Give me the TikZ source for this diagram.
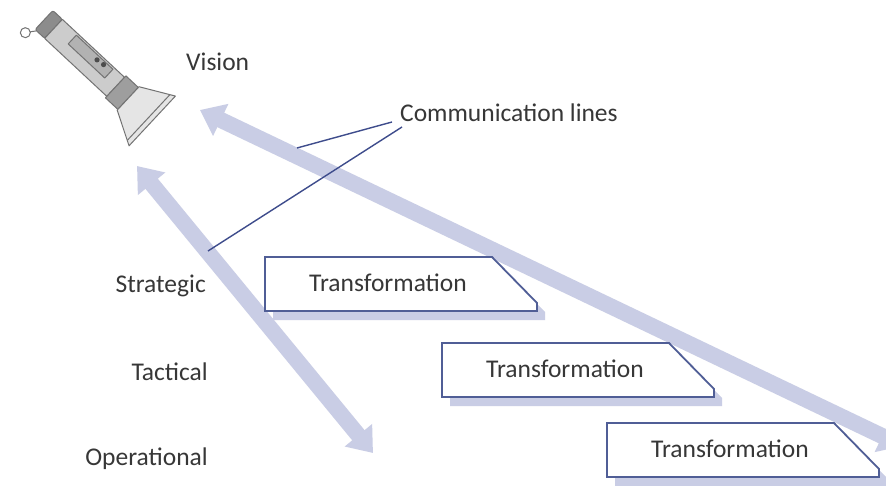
\documentclass[tikz,border=0pt]{standalone}
\usepackage{fontspec}
\setmainfont{Carlito}
\usetikzlibrary{arrows.meta}

\definecolor{flow}{RGB}{201,205,229}
\definecolor{frameblue}{RGB}{80,94,150}
\definecolor{commblue}{RGB}{62,76,140}
\definecolor{ink}{RGB}{55,55,55}
\definecolor{lampline}{RGB}{115,115,115}

\tikzset{
  plaintext/.style={text=ink, font=\fontsize{25.5}{30}\selectfont, inner sep=0pt},
  flowarrow/.style={draw=flow, line width=16pt,
    {Triangle[width=34pt,length=23pt]}-{Triangle[width=34pt,length=23pt]}},
  commline/.style={draw=commblue, line width=1.4pt},
  tframe/.style={draw=frameblue, line width=1.8pt, fill=white, line join=miter},
  tshadow/.style={fill=flow},
  lamp/.style={draw=lampline, line width=1pt, line join=round},
}

% one "Transformation" stage: #1 node name, (#2,#3) top-left corner
\newcommand\transbox[3]{%
  \begin{scope}[shift={(#2,#3)}]
    \fill[tshadow, shift={(8,9)}] (0,0) -- (227,0) -- (272,46) -- (272,54) -- (0,54) -- cycle;
    \draw[tframe] (0,0) -- (227,0) -- (272,46) -- (272,54) -- (0,54) -- cycle;
    \node[plaintext, anchor=base] (#1) at (123,34) {Transformation};
  \end{scope}}

\begin{document}
\begin{tikzpicture}[x=1pt, y=-1pt]
  \useasboundingbox (0,0) rectangle (886,486);
  \clip (0,0) rectangle (886,486);
  \fill[white] (0,0) rectangle (886,486);

  % flashlight
  \begin{scope}[shift={(44,20)}, rotate=-43]
    \draw[lamp] (2,13) -- (-2,18);
    \draw[lamp] (-5,22) circle (5);
    \draw[lamp, fill=black!45, rounded corners=2pt] (0,-13) rectangle (13,13);
    \draw[lamp, fill=black!20] (13,-13) rectangle (98,13);
    \draw[lamp, fill=black!30] (34,-11) rectangle (84,1);
    \fill[black!70] (66,-7) circle (2.6);
    \fill[black!70] (74,-8) circle (2.6);
    \draw[lamp, fill=black!38] (98,-15) rectangle (115,15);
    \draw[lamp, fill=black!10] (115,-16) -- (148,-34) -- (148,34) -- (115,16) -- cycle;
    \draw[lamp] (143,-31) -- (143,31);
  \end{scope}

  % level labels
  \node[plaintext, anchor=base west] (vision) at (186,71) {Vision};
  \node[plaintext, anchor=base east] (strategic) at (206,293) {Strategic};
  \node[plaintext, anchor=base east] (tactical) at (208,380) {Tactical};
  \node[plaintext, anchor=base east] (operational) at (208,465) {Operational};
  \node[plaintext, anchor=base west] (comm) at (400,122) {Communication lines};

  % communication arrows
  \coordinate (aUp) at (137,166);
  \coordinate (aDown) at (373,453);
  \coordinate (bUp) at (200,110);
  \coordinate (bDown) at (903,446);
  \draw[flowarrow] (aUp) -- (aDown);
  \draw[flowarrow] (bUp) -- (bDown);

  % transformation stages
  \transbox{stage1}{265}{257}
  \transbox{stage2}{442}{343}
  \transbox{stage3}{607}{423}

  % pointers from the caption to the arrows
  \coordinate (c1a) at (297,148);
  \coordinate (c1b) at (392,122);
  \coordinate (c2a) at (208,251);
  \coordinate (c2b) at (402,127);
  \draw[commline] (c1a) -- (c1b);
  \draw[commline] (c2a) -- (c2b);
\end{tikzpicture}
\end{document}
